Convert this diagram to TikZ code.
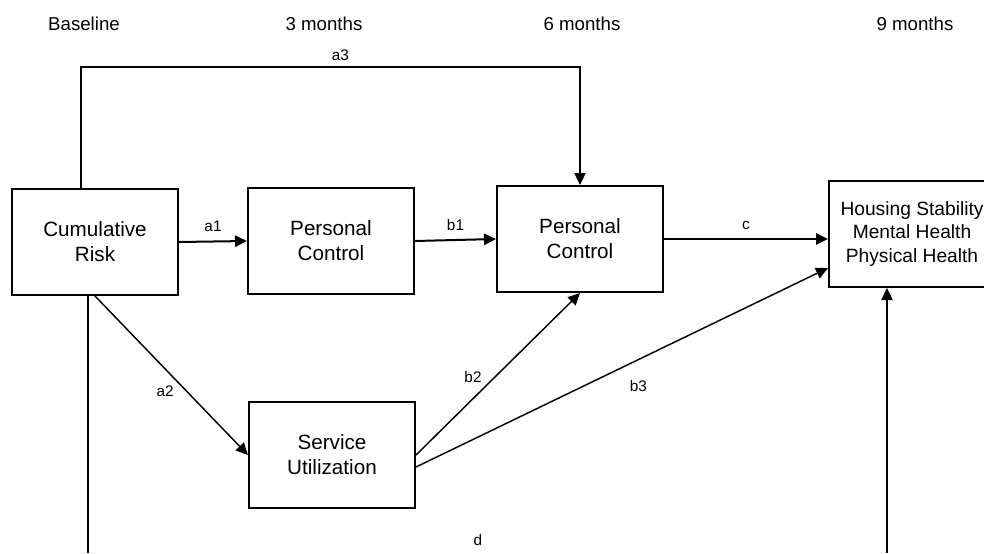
\documentclass[tikz,border=0pt]{standalone}
\usepackage{fontspec}
\setmainfont{Liberation Sans}
\usetikzlibrary{arrows.meta}

\begin{document}
\begin{tikzpicture}[x=0.75pt,y=-0.75pt,
  box/.style={draw,line width=1.5pt,minimum width=124.5pt,minimum height=79.5pt,inner sep=0pt,align=center,font=\fontsize{15.5}{18.75}\selectfont},
  hdr/.style={font=\fontsize{14}{17}\selectfont},
  lbl/.style={font=\fontsize{11.5}{13}\selectfont},
  >={Triangle[length=9pt,width=8.5pt]}]
\useasboundingbox (0,0) rectangle (984,553);
\node[hdr] (base) at (84,24) {Baseline};
\node[hdr] (m3) at (324,24) {3 months};
\node[hdr] (m6) at (582,24) {6 months};
\node[hdr] (m9) at (915,24) {9 months};
\node[box] (risk) at (95,242) {Cumulative\\Risk};
\node[box] (pc3) at (331,241) {Personal\\Control};
\node[box] (pc6) at (580,239) {Personal\\Control};
\node[box] (serv) at (332,455) {Service\\Utilization};
\node[box,font=\fontsize{14.4}{17.5}\selectfont] (out) at (912,234) {Housing Stability\\Mental Health\\Physical Health};
\coordinate (top) at (81,67);
\coordinate (dl) at (88,553);
\coordinate (dr) at (887,553);
\draw[->,line width=1.5pt](risk.east)--(pc3.west)node[lbl,midway,above=3pt]{a1};
\draw[->,line width=1.5pt](pc3.east)--(pc6.west)node[lbl,midway,above=3pt]{b1};
\draw[->,line width=1.5pt](pc6.east)--(pc6.east -| out.west)node[lbl,midway,above=3pt]{c};
\draw[->,line width=0.8pt](risk.north -| top)|-(pc6.north |- top)node[lbl,pos=0.76,above=1pt]{a3}--(pc6.north);
\draw[->,line width=1.1pt](risk.south)--(serv.west)node[lbl,pos=0.6,left=6pt]{a2};
\draw[->,line width=1.1pt](serv.east)--(pc6.south)node[lbl,pos=0.48,left=6pt]{b2};
\draw[->,line width=1.1pt]([yshift=-9pt]serv.east)--([yshift=15pt]out.south west)node[lbl,pos=0.54,below=12pt]{b3};
\draw[line width=0.8pt](risk.south -| dl)--(dl);
\draw[->,line width=0.8pt](dr)--(dr |- out.south);
\node[lbl] (d) at (478,540) {d};
\end{tikzpicture}
\end{document}
